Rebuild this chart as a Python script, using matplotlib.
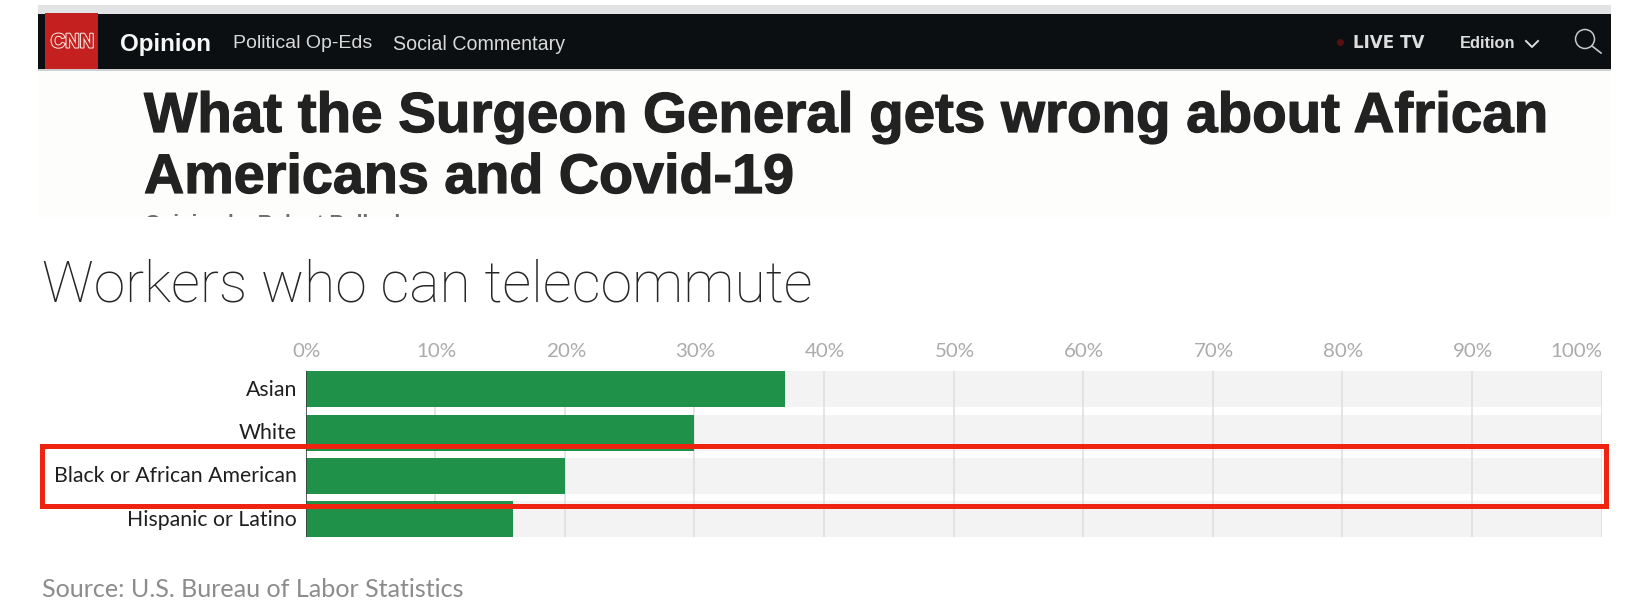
import matplotlib
matplotlib.use("Agg")
import matplotlib.pyplot as plt
from matplotlib.patches import Rectangle, Circle
from matplotlib.transforms import ScaledTranslation
import matplotlib.patheffects as pe

W, H = 1629, 606

# Share of workers able to telecommute, percent
groups = ["Asian", "White", "Black or African American", "Hispanic or Latino"]
shares = [37, 30, 20, 16]
tick_values = [0, 10, 20, 30, 40, 50, 60, 70, 80, 90, 100]
tick_labels = ["0%", "10%", "20%", "30%", "40%", "50%", "60%", "70%", "80%", "90%", "100%"]
highlighted = "Black or African American"

headline_lines = ["What the Surgeon General gets wrong about African", "Americans and Covid-19"]
chart_title = "Workers who can telecommute"
source_note = "Source: U.S. Bureau of Labor Statistics"

BODY = "Lato"
HEAD = "Liberation Sans"
GREEN = "#209148"
BAND = "#f3f3f3"
GRID = "#dedede"
RED = "#ee2310"
NAV = "#0c0f11"

fig = plt.figure(figsize=(W / 100, H / 100), dpi=100, facecolor="white")


def pixel_axes(zorder):
    ax = fig.add_axes([0, 0, 1, 1], zorder=zorder)
    ax.set_xlim(0, W)
    ax.set_ylim(H, 0)
    ax.axis("off")
    return ax


def px(size):
    return size * 72 / 100


# Page header strip above the chart
page = pixel_axes(0)
page.add_patch(Rectangle((38, 5), 1573, 9, fc="#e2e3e5", ec="none"))
page.add_patch(Rectangle((38, 69), 1573, 148, fc="#fdfdfb", ec="none"))
page.add_patch(Rectangle((38, 14), 1573, 55, fc=NAV, ec="none"))
page.add_patch(Rectangle((38, 69), 1573, 2, fc="#cfd0d0", ec="none"))
page.add_patch(Rectangle((45, 13), 53, 56, fc="#c4201f", ec="none"))

page.text(72.5, 42, "CNN", color="#c4201f", fontsize=px(20), family=HEAD, weight="bold",
          ha="center", va="center",
          path_effects=[pe.withStroke(linewidth=1.5, foreground="#f4e4dc")])

page.text(120, 44, "Opinion", color="#f7f7f7", fontsize=px(24.1), family=HEAD, weight="bold", va="center")
page.text(233, 44, "Political Op-Eds", color="#d9d9d9", fontsize=px(19.5), family=HEAD, va="center")
page.text(393, 44, "Social Commentary", color="#d9d9d9", fontsize=px(19.6), family=HEAD, va="center")
page.plot([1340], [42], marker="o", ms=4, color="#5a1012", ls="none")
page.text(1353, 43, "LIVE TV", color="#dddddd", fontsize=px(16.8), family="DejaVu Sans", weight="bold", va="center")
page.text(1460, 43, "Edition", color="#dddddd", fontsize=px(16.5), family=HEAD, weight="bold", va="center")
page.plot([1526, 1532, 1538], [41, 47, 41], color="#dddddd", lw=1.4)
page.add_patch(Circle((1585, 39), 9.5, fc="none", ec="#c8c8c8", lw=1.1))
page.plot([1592, 1601], [46, 53], color="#c8c8c8", lw=1.2)

heavier = [pe.withStroke(linewidth=0.9, foreground="#222222")]
page.text(144, 132, headline_lines[0], color="#222222", fontsize=px(56.5), family=HEAD, weight="bold",
          va="baseline", path_effects=heavier)
page.text(144, 193, headline_lines[1], color="#222222", fontsize=px(55.7), family=HEAD, weight="bold",
          va="baseline", path_effects=heavier)

# Byline, cut off at the lower edge of the header strip
byline = page.text(145, 229, "Opinion by Robert Bullard", color="#6a6e70", fontsize=px(20.5), family=HEAD,
                   weight="bold", va="baseline")
byline.set_clip_path(Rectangle((38, 69), 1573, 148, transform=page.transData))
byline.set_clip_on(True)

page.text(42, 301, chart_title, color="#262626", fontsize=px(57.1), family="Roboto", weight="light", va="baseline")
page.text(42, 597, source_note, color="#8c8c8c", fontsize=px(25.1), family=BODY, va="baseline")

# Horizontal bar chart on a full-scale pale track
left, right, top, bottom = 305.5, 1601.5, 371.3, 537.3
chart = fig.add_axes([left / W, 1 - bottom / H, (right - left) / W, (bottom - top) / H], zorder=1)
chart.patch.set_alpha(0)
positions = list(range(len(groups)))
bar_height = 36 / 43.33

chart.barh(positions, [100] * len(groups), height=bar_height, color=BAND, zorder=1)
for value in tick_values:
    chart.axvline(value, color=GRID, lw=1.1, zorder=2)
chart.barh(positions, shares, height=bar_height, color=GREEN, zorder=3)
chart.axvline(0, color="#3a3a3a", lw=1.1, zorder=4)

chart.set_xlim(0, 100)
chart.set_ylim(len(groups) - 1 + bar_height / 2, -bar_height / 2)
chart.set_yticks(positions, groups)
chart.set_xticks(tick_values, tick_labels)
chart.xaxis.tick_top()
chart.tick_params(axis="both", length=0)
chart.tick_params(axis="x", pad=7.8, labelsize=px(20.5), labelcolor="#ababab")
chart.tick_params(axis="y", pad=6, labelsize=px(21.3), labelcolor="#1f1f1f")
for label in chart.get_xticklabels() + chart.get_yticklabels():
    label.set_family(BODY)
# Nudge the labels a little for optical alignment with the bars and gridlines
for label in chart.get_yticklabels():
    label.set_transform(label.get_transform() + ScaledTranslation(0, 1.5 / 100, fig.dpi_scale_trans))
for label in chart.get_xticklabels():
    label.set_transform(label.get_transform() + ScaledTranslation(1 / 100, 0, fig.dpi_scale_trans))
chart.get_xticklabels()[-1].set_ha("right")
for spine in chart.spines.values():
    spine.set_visible(False)

# Red outline around the highlighted row
overlay = pixel_axes(2)
overlay.patch.set_alpha(0)
row = groups.index(highlighted)
row_mid = H - chart.transData.transform((0, row))[1]
overlay.add_patch(Rectangle((42.5, row_mid - 30), 1563.5, 60, fc="none", ec=RED, lw=3.6, joinstyle="miter"))

fig.savefig("out.png", dpi=100, facecolor="white")
